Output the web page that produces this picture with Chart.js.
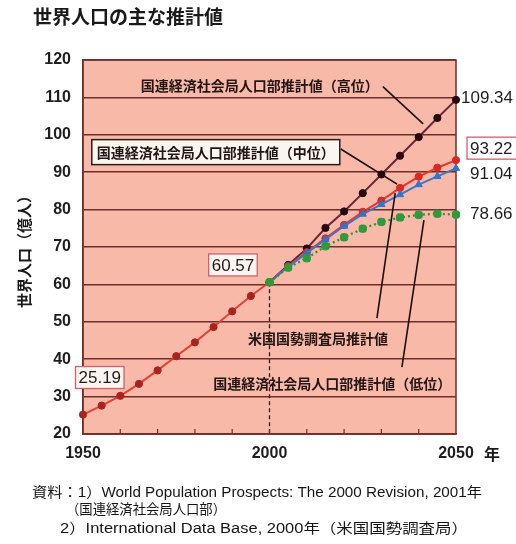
<!DOCTYPE html>
<html>
<head>
<meta charset="utf-8">
<script src="https://cdn.jsdelivr.net/npm/chart.js@4/dist/chart.umd.min.js"></script>
<style>
  html, body { margin: 0; padding: 0; background: #ffffff; }
  #wrap { width: 516px; height: 544px; position: relative; }
</style>
</head>
<body>
<div id="wrap"><canvas id="chart" width="516" height="544"></canvas></div>
<script>
// 世界人口（億人）: 実績 1950–2000
const histYears  = [1950, 1955, 1960, 1965, 1970, 1975, 1980, 1985, 1990, 1995, 2000];
const histValues = [25.19, 27.6, 30.2, 33.4, 37.0, 40.8, 44.5, 48.6, 52.8, 56.9, 60.57];

// 推計 2000–2050
const projYears   = [2000, 2005, 2010, 2015, 2020, 2025, 2030, 2035, 2040, 2045, 2050];
const unHigh      = [60.57, 65.2, 69.6, 75.1, 79.5, 84.4, 89.4, 94.4, 99.4, 104.5, 109.34];
const unMedium    = [60.57, 64.9, 68.6, 72.3, 75.9, 79.4, 82.4, 85.8, 88.8, 91.2, 93.22];
const censusIdb   = [60.57, 64.7, 68.4, 72.0, 75.6, 78.8, 81.4, 84.0, 86.7, 88.9, 91.04];
const unLow       = [60.57, 64.5, 67.0, 70.2, 72.6, 74.9, 76.7, 77.9, 78.6, 78.9, 78.66];

const yTickValues = [20, 30, 40, 50, 60, 70, 80, 90, 100, 110, 120];
const xTickLabels = [1950, 2000, 2050];
const xMinorTicks = [1960, 1970, 1980, 1990, 2000, 2010, 2020, 2030, 2040];

const JP  = '"Noto Sans CJK JP", "Noto Sans", sans-serif';
const NUM = '"Liberation Sans", Arial, sans-serif';
const MIX = '"Liberation Sans", "Noto Sans CJK JP", sans-serif';

const GRID = '#6e2f28';
const PLOT_BG = '#f8b9a9';

const pts = (xs, ys) => xs.map((x, i) => ({ x: x, y: ys[i] }));

// 図中の注記（データ座標で配置）
const seriesNotes = [
  { text: '国連経済社会局人口部推計値（高位）', at: [1997.4, 113.4], box: false,
    leader: [[2030.4, 112.9], [2041.2, 102.9]] },
  { text: '国連経済社会局人口部推計値（中位）', at: [1985.6, 95.5], box: true,
    leader: [[2019.1, 96.2], [2034.2, 86.8]] },
  { text: '米国国勢調査局推計値', at: [2013.0, 45.7], box: false,
    leader: [[2028.8, 51.0], [2033.7, 84.4]] },
  { text: '国連経済社会局人口部推計値（低位）', at: [2016.8, 33.6], box: false,
    leader: [[2035.5, 37.9], [2041.4, 77.2]] }
];

// 資料の行: [テキスト, 左端, 中心y, 幅]
const sourceLines = [
  ['資料：1）World Population Prospects: The 2000 Revision, 2001年', 32, 493, 450],
  ['（国連経済社会局人口部）', 66, 510, 160],
  ['2）International Data Base, 2000年（米国国勢調査局）', 60, 529, 408]
];

const chartDecor = {
  id: 'chartDecor',
  beforeDraw(chart) {
    const { ctx, chartArea: a } = chart;
    ctx.save();
    ctx.fillStyle = '#ffffff';
    ctx.fillRect(0, 0, chart.width, chart.height);
    ctx.fillStyle = PLOT_BG;
    ctx.fillRect(a.left, a.top, a.right - a.left, a.bottom - a.top);
    ctx.restore();
  },
  beforeDatasetsDraw(chart) {
    const { ctx, chartArea: a, scales: { x, y } } = chart;
    ctx.save();
    // 2000年の区切り（破線）
    ctx.strokeStyle = '#3a1a14';
    ctx.lineWidth = 1.3;
    ctx.setLineDash([4, 3]);
    ctx.beginPath();
    ctx.moveTo(x.getPixelForValue(2000), y.getPixelForValue(histValues[histValues.length - 1]));
    ctx.lineTo(x.getPixelForValue(2000), a.bottom);
    ctx.stroke();
    ctx.setLineDash([]);
    // 枠線
    ctx.strokeStyle = GRID;
    ctx.lineWidth = 1.5;
    ctx.strokeRect(a.left, a.top, a.right - a.left, a.bottom - a.top);
    // 目盛り（内向き）
    ctx.lineWidth = 1.2;
    xMinorTicks.forEach(t => {
      const px = x.getPixelForValue(t);
      ctx.beginPath();
      ctx.moveTo(px, a.bottom);
      ctx.lineTo(px, a.bottom - 5);
      ctx.stroke();
    });
    ctx.restore();
  },
  afterDraw(chart) {
    const { ctx, chartArea: a, scales: { x, y } } = chart;
    const P = (xv, yv) => [x.getPixelForValue(xv), y.getPixelForValue(yv)];
    ctx.save();

    // タイトル
    ctx.fillStyle = '#1a1a1a';
    ctx.textBaseline = 'middle';
    ctx.textAlign = 'left';
    ctx.font = 'bold 19px ' + JP;
    ctx.fillText('世界人口の主な推計値', 33, 17);

    // 縦軸タイトル
    ctx.save();
    ctx.translate(24, 248);
    ctx.rotate(-Math.PI / 2);
    ctx.textAlign = 'center';
    ctx.font = 'bold 15px ' + JP;
    ctx.fillText('世界人口（億人）', 0, 0);
    ctx.restore();

    // 横軸の単位
    ctx.font = 'bold 16px ' + JP;
    ctx.textAlign = 'left';
    ctx.fillText('年', 484, 454);

    // 引き出し線と注記
    ctx.strokeStyle = '#1a1010';
    ctx.lineWidth = 1.6;
    seriesNotes.forEach(n => {
      const [p0, p1] = [P(...n.leader[0]), P(...n.leader[1])];
      ctx.beginPath();
      ctx.moveTo(p0[0], p0[1]);
      ctx.lineTo(p1[0], p1[1]);
      ctx.stroke();
    });
    ctx.font = 'bold 14px ' + JP;
    ctx.textAlign = 'center';
    seriesNotes.forEach(n => {
      const [cx, cy] = P(...n.at);
      const w = ctx.measureText(n.text).width;
      if (n.box) {
        ctx.fillStyle = '#fbf4ef';
        ctx.fillRect(cx - w / 2 - 5, cy - 12, w + 10, 25);
        ctx.strokeStyle = '#2a1a18';
        ctx.lineWidth = 1.5;
        ctx.strokeRect(cx - w / 2 - 5, cy - 12, w + 10, 25);
      }
      ctx.fillStyle = '#231614';
      ctx.fillText(n.text, cx, cy + 1);
    });

    // 数値ラベル（枠付き）
    const boxed = (label, cx, cy) => {
      ctx.font = '17px ' + NUM;
      const w = ctx.measureText(label).width;
      ctx.fillStyle = '#fdf3f1';
      ctx.fillRect(cx - w / 2 - 3, cy - 11, w + 6, 22);
      ctx.strokeStyle = '#d0606a';
      ctx.lineWidth = 1.3;
      ctx.strokeRect(cx - w / 2 - 3, cy - 11, w + 6, 22);
      ctx.fillStyle = '#1e1e1e';
      ctx.textAlign = 'center';
      ctx.fillText(label, cx, cy + 1);
    };
    const last = arr => arr[arr.length - 1];
    boxed(histValues[0].toFixed(2), ...P(1954.5, 35.1));
    boxed(last(histValues).toFixed(2), ...P(1990.2, 65.2));

    // 2050年の値
    const endX = x.getPixelForValue(2050);
    const endLabels = [
      { v: last(unHigh),    dy: -3,  dx: 5,  box: false },
      { v: last(unMedium),  dy: -12, dx: 14, box: true },
      { v: last(censusIdb), dy: 5,   dx: 14, box: false },
      { v: last(unLow),     dy: -1,  dx: 14, box: false }
    ];
    ctx.font = '17px ' + NUM;
    endLabels.forEach(l => {
      const label = l.v.toFixed(2);
      const lx = endX + l.dx;
      const ly = y.getPixelForValue(l.v) + l.dy;
      const w = ctx.measureText(label).width;
      if (l.box) {
        ctx.fillStyle = '#ffffff';
        ctx.fillRect(lx - 3, ly - 11, w + 8, 22);
        ctx.strokeStyle = '#d0606a';
        ctx.lineWidth = 1.3;
        ctx.strokeRect(lx - 3, ly - 11, w + 8, 22);
      }
      ctx.fillStyle = '#1e1e1e';
      ctx.textAlign = 'left';
      ctx.fillText(label, lx, ly + 1);
    });

    // 資料（各行を所定の幅に合わせて描く）
    ctx.fillStyle = '#151515';
    ctx.textAlign = 'left';
    ctx.font = '14px ' + MIX;
    sourceLines.forEach(([text, left, cy, width]) => {
      const w = ctx.measureText(text).width;
      ctx.save();
      ctx.translate(left, cy);
      ctx.scale(width / w, 1);
      ctx.fillText(text, 0, 0);
      ctx.restore();
    });

    ctx.restore();
  }
};

const lineDs = (label, xs, ys, lineColor, pointColor, extra) => Object.assign({
  label: label,
  data: pts(xs, ys),
  borderColor: lineColor,
  borderWidth: 2,
  pointBackgroundColor: pointColor,
  pointBorderColor: pointColor,
  pointRadius: 3.6,
  pointBorderWidth: 1,
  tension: 0,
  clip: 8
}, extra || {});

new Chart(document.getElementById('chart'), {
  type: 'line',
  data: {
    datasets: [
      lineDs('低位', projYears, unLow, '#2f8f35', '#2e9a3a',
             { borderDash: [2, 3], borderWidth: 2.2, pointStyle: 'rectRounded', pointRadius: 4.2 }),
      lineDs('米国国勢調査局', projYears, censusIdb, '#3b78c8', '#2f74d0',
             { pointStyle: 'triangle', pointRadius: 4.2 }),
      lineDs('中位', projYears, unMedium, '#e8362c', '#d92a22'),
      lineDs('高位', projYears, unHigh, '#6b2536', '#250812'),
      lineDs('実績', histYears, histValues, '#dc4436', '#a8241c')
    ]
  },
  options: {
    responsive: false,
    animation: false,
    events: [],
    layout: { padding: { left: 0, top: 60, right: 60, bottom: 80 } },
    plugins: { legend: { display: false }, tooltip: { enabled: false }, title: { display: false } },
    scales: {
      x: {
        type: 'linear',
        min: 1950,
        max: 2050,
        afterBuildTicks: s => { s.ticks = xTickLabels.map(v => ({ value: v })); },
        afterFit: s => { s.height = 30; },
        grid: { display: false, drawTicks: false },
        border: { display: true, color: GRID, width: 1.5 },
        ticks: {
          padding: 10,
          color: '#1e1e1e',
          font: { family: NUM, size: 16, weight: 'bold' },
          callback: v => String(v),
          maxRotation: 0
        }
      },
      y: {
        min: 20,
        max: 120,
        afterBuildTicks: s => { s.ticks = yTickValues.map(v => ({ value: v })); },
        afterFit: s => { s.width = 83; },
        grid: { color: GRID, lineWidth: 1.5, drawTicks: false },
        border: { display: true, color: GRID, width: 1.5 },
        ticks: {
          padding: 12,
          color: '#1e1e1e',
          font: { family: NUM, size: 16, weight: 'bold' }
        }
      }
    }
  },
  plugins: [chartDecor]
});
</script>
</body>
</html>
